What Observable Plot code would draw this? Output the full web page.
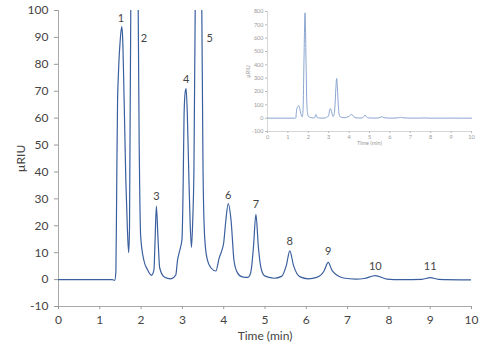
<!DOCTYPE html>
<html><head><meta charset="utf-8">
<script src="https://cdn.jsdelivr.net/npm/d3@7"></script>
<script src="https://cdn.jsdelivr.net/npm/@observablehq/plot@0.6"></script>
<style>
html,body{margin:0;padding:0;background:#fff;}
#wrap{position:relative;width:493px;height:354px;}
#main,#inset{position:absolute;top:0;}
#main{left:0;}
#inset{left:240px;}
</style></head><body>
<div id="wrap"><div id="main"></div><div id="inset"></div></div>
<script>
// Chromatogram trace (time in min, signal in µRIU)
const time = [0, 1.30, 1.36, 1.39, 1.41, 1.43, 1.45, 1.46, 1.49, 1.53, 1.55, 1.59, 1.63, 1.67, 1.70, 1.72, 1.75, 1.79, 1.84, 1.89, 1.93, 1.96, 1.99, 2.07, 2.15, 2.25, 2.31, 2.34, 2.37, 2.41, 2.45, 2.56, 2.72, 2.84, 2.88, 2.93, 2.99, 3.02, 3.04, 3.07, 3.09, 3.12, 3.16, 3.19, 3.22, 3.25, 3.28, 3.31, 3.35, 3.39, 3.43, 3.47, 3.50, 3.54, 3.60, 3.69, 3.81, 3.89, 3.95, 4.00, 4.05, 4.11, 4.18, 4.25, 4.33, 4.45, 4.58, 4.63, 4.67, 4.72, 4.78, 4.84, 4.90, 4.98, 5.10, 5.22, 5.40, 5.52, 5.60, 5.69, 5.85, 6.05, 6.25, 6.43, 6.53, 6.63, 6.90, 7.20, 7.40, 7.67, 7.95, 8.30, 8.80, 9.00, 9.20, 10.0];
const signal = [0, 0, -0.3, 3, 36, 66, 76, 80, 88, 94, 91, 66, 37, 18, 10, 20, 100, 450, 790, 420, 100, 42, 16, 7, 3.8, 1.6, 3.5, 15.5, 27.3, 15, 4.4, 1, 0.3, 1.7, 7, 10.5, 15, 37, 61, 70, 71, 61, 36, 20, 12, 22, 42, 100, 220, 298, 220, 100, 40, 15.5, 7.6, 4.4, 3.2, 8, 10.6, 13.7, 21.7, 28.2, 21.7, 7, 2.6, 1, 0.8, 1.5, 4, 12, 24.2, 12, 4.5, 1.5, 0.8, 0.5, 1.2, 5.5, 10.7, 5.3, 1, 0.3, 0.8, 3.2, 6.4, 3.2, 0.6, 0.2, 0.4, 1.5, 0.2, 0, 0.1, 0.7, 0.1, -0.1];

// Peak annotations
const peakLabels = ["1", "2", "3", "4", "5", "6", "7", "8", "9", "10", "11"];
const peakLabelX = [1.51, 2.07, 2.37, 3.09, 3.66, 4.11, 4.78, 5.60, 6.53, 7.67, 9.00];
const peakLabelY = [97, 89.5, 31, 74.3, 89.5, 31.4, 28, 14.3, 10.3, 5, 5];

// Ticks
const xTicks = [0, 1, 2, 3, 4, 5, 6, 7, 8, 9, 10];
const yTicksMain = [-10, 0, 10, 20, 30, 40, 50, 60, 70, 80, 90, 100];
const yTicksInset = [-100, 0, 100, 200, 300, 400, 500, 600, 700, 800];

const trace = time.map((t, i) => ({t, v: signal[i]}));
const labels = peakLabels.map((l, i) => ({l, x: peakLabelX[i], y: peakLabelY[i]}));

const font = "Lato, 'Open Sans', sans-serif";
const fmt = d => String(d);

const main = Plot.plot({
  width: 493, height: 354,
  marginLeft: 58, marginRight: 22, marginTop: 10, marginBottom: 48,
  style: {fontFamily: font, background: "transparent", color: "#444"},
  x: {domain: [0, 10]},
  y: {domain: [-10, 100]},
  marks: [
    Plot.ruleX([0], {stroke: "#aaa", strokeWidth: 1}),
    Plot.ruleY([-10], {stroke: "#aaa", strokeWidth: 1}),
    Plot.axisX({ticks: xTicks, tickFormat: fmt, tickSize: 3, tickPadding: 6, stroke: "#999", fill: "#444", fontSize: 12,
      label: "Time (min)", labelAnchor: "center", labelOffset: 33, labelArrow: "none"}),
    Plot.axisY({ticks: yTicksMain, tickFormat: fmt, tickSize: 4, tickPadding: 6, stroke: "#999", fill: "#444", fontSize: 12,
      label: "µRIU", labelAnchor: "center", labelOffset: 42, labelArrow: "none"}),
    Plot.line(trace, {x: "t", y: "v", stroke: "#3a5f9e", strokeWidth: 1.2, curve: "monotone-x", clip: true}),
    Plot.text(labels, {x: "x", y: "y", text: "l", fill: "#444", fontSize: 11})
  ]
});
document.getElementById("main").appendChild(main);

const inset = Plot.plot({
  width: 253, height: 150,
  marginLeft: 27, marginRight: 22, marginTop: 11, marginBottom: 19,
  style: {fontFamily: font, background: "transparent", color: "#999"},
  x: {domain: [0, 10]},
  y: {domain: [-100, 800]},
  marks: [
    Plot.ruleX([0], {stroke: "#ccc", strokeWidth: 0.8}),
    Plot.ruleY([-100], {stroke: "#ccc", strokeWidth: 0.8}),
    Plot.axisX({ticks: xTicks, tickFormat: fmt, tickSize: 2, tickPadding: 2, stroke: "#bbb", fill: "#999", fontSize: 5.5,
      label: "Time (min)", labelAnchor: "center", labelOffset: 13, labelArrow: "none"}),
    Plot.axisY({ticks: yTicksInset, tickFormat: fmt, tickSize: 2, tickPadding: 2, stroke: "#bbb", fill: "#999", fontSize: 5.5,
      label: "µRIU", labelAnchor: "center", labelOffset: 21, labelArrow: "none"}),
    Plot.line(trace, {x: "t", y: "v", stroke: "#7d9bcb", strokeWidth: 0.9, curve: "monotone-x"})
  ]
});
document.getElementById("inset").appendChild(inset);
</script>
</body></html>
